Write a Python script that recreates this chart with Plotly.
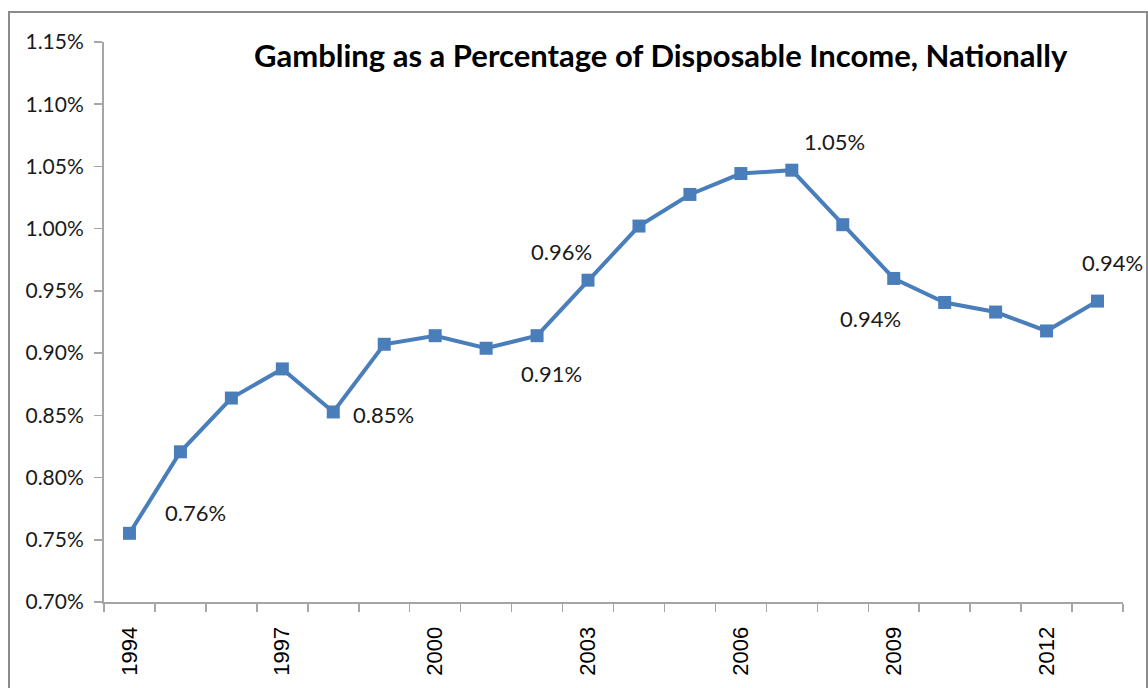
import plotly.graph_objects as go

years = list(range(1994, 2014))
pct = [0.7552, 0.8207, 0.8639, 0.8873, 0.8527, 0.9071, 0.9140, 0.9039, 0.9140, 0.9586,
       1.0021, 1.0275, 1.0443, 1.0470, 1.0032, 0.9600, 0.9407, 0.9330, 0.9178, 0.9418]
label_years = [1994, 1998, 2002, 2003, 2007, 2010, 2013]
tick_years = [1994, 1997, 2000, 2003, 2006, 2009, 2012]
title = "Gambling as a Percentage of Disposable Income, Nationally"

# label offsets (style): pixel shifts from the data point
label_shift = {1994: (66, 21), 1998: (50, -3), 2002: (14, -38), 2003: (-27, 29),
               2007: (43, 29), 2010: (-74, -16), 2013: (15, 39)}

LINE = "#4a7ebb"
AX = "#a6a6a6"
TXT = "#1a1a1a"
FONT = "Lato"

W, H = 1148, 688
L, T = 104, 42
R = W - 1123
B = H - 604
pw, ph = W - L - R, H - T - B
def px(x): return (x - L) / pw
def py(y): return (H - B - y) / ph

fig = go.Figure()
fig.add_trace(go.Scatter(
    x=years, y=pct, mode="lines+markers",
    line=dict(color=LINE, width=4),
    marker=dict(symbol="square", size=13, color=LINE),
    hoverinfo="skip", showlegend=False,
))

for yr in label_years:
    v = pct[years.index(yr)]
    dx, dy = label_shift[yr]
    fig.add_annotation(x=yr, y=v, text=f"{v:.2f}%", showarrow=False,
                       xshift=dx, yshift=dy,
                       font=dict(family=FONT, size=22, color=TXT))

fig.add_shape(type="rect", xref="paper", yref="paper",
              x0=px(9), x1=px(1147), y0=py(760), y1=py(12),
              line=dict(color="#8c8c8c", width=2), layer="below")

fig.add_annotation(xref="paper", yref="paper", x=px(661), y=py(55),
                   text=f"<b>{title}</b>", showarrow=False,
                   xanchor="center", yanchor="middle",
                   font=dict(family=FONT, size=31, color="#000000"))

bounds = [y - 0.5 for y in years] + [years[-1] + 0.5]

fig.update_layout(
    width=W, height=H,
    margin=dict(l=L, r=R, t=T, b=B, pad=0),
    paper_bgcolor="white", plot_bgcolor="white",
    hovermode=False,
    xaxis=dict(
        range=[years[0] - 0.5, years[-1] + 0.5],
        tickmode="array", tickvals=tick_years, ticktext=[str(t) for t in tick_years],
        ticks="", tickangle=-90, showgrid=False, zeroline=False,
        showline=True, linecolor=AX, linewidth=2,
        tickfont=dict(family="Liberation Sans", size=22, color="#000000"),
        ticklabelstandoff=14,
        minor=dict(tickmode="array", tickvals=bounds, ticks="outside",
                   ticklen=8, tickcolor=AX, tickwidth=1.5, showgrid=False),
    ),
    yaxis=dict(
        range=[0.70, 1.15], tick0=0.70, dtick=0.05, tickformat=".2f", ticksuffix="%",
        ticks="outside", ticklen=8, tickcolor=AX, tickwidth=1.5,
        showgrid=False, zeroline=False,
        showline=True, linecolor=AX, linewidth=2,
        tickfont=dict(family=FONT, size=21, color=TXT),
        ticklabelstandoff=6,
    ),
)

page_css = ("document.documentElement.style.margin='0';"
            "document.documentElement.style.overflow='hidden';"
            "document.body.style.margin='0';"
            "document.body.style.overflow='hidden';")

fig.write_html("out.html", post_script=page_css,
               config={"displayModeBar": False, "staticPlot": True})
